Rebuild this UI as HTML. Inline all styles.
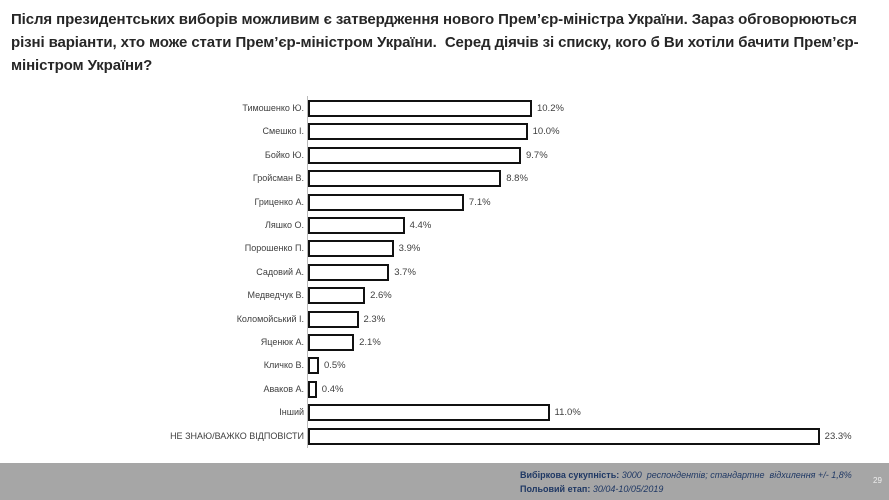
<!DOCTYPE html>
<html><head><meta charset="utf-8"><style>
body{margin:0;width:889px;height:500px;background:#fff;position:relative;overflow:hidden;font-family:"Liberation Sans","DejaVu Sans",sans-serif}
.t{position:absolute;left:11px;top:8px;width:880px;font-size:15px;font-weight:bold;color:#262626;line-height:23px;white-space:nowrap;letter-spacing:-0.1px}
.lab{position:absolute;right:585px;font-size:9px;color:#404040;white-space:nowrap}
.bar{position:absolute;left:308px;height:13px;border:2px solid #111;background:#fff}
.v{position:absolute;font-size:9.5px;color:#404040}
.foot{position:absolute;left:0;top:463px;width:889px;height:37px;background:#a6a6a6}
.ft{position:absolute;left:520px;font-size:9px;color:#1f3864}
</style></head><body>
<div class="t">Після президентських виборів можливим є затвердження нового Прем’єр-міністра України. Зараз обговорюються<br>різні варіанти, хто може стати Прем’єр-міністром України.&nbsp; Серед діячів зі списку, кого б Ви хотіли бачити Прем’єр-<br>міністром України?</div>
<div style="position:absolute;left:307px;top:96px;width:1px;height:352px;background:#bbb"></div>
<div id="c"></div>
<div class="foot"></div>
<div class="ft" style="top:470px"><b>Вибіркова сукупність:</b> <i>3000&nbsp; респондентів; стандартне&nbsp; відхилення +/- 1,8%</i></div>
<div class="ft" style="top:484px"><b>Польовий етап:</b> <i>30/04-10/05/2019</i></div>
<div style="position:absolute;left:873px;top:476px;font-size:8px;color:#eee">29</div>
<script>
var d=[["Тимошенко Ю.",10.2],["Смешко І.",10.0],["Бойко Ю.",9.7],["Гройсман В.",8.8],["Гриценко А.",7.1],["Ляшко О.",4.4],["Порошенко П.",3.9],["Садовий А.",3.7],["Медведчук В.",2.6],["Коломойський І.",2.3],["Яценюк А.",2.1],["Кличко В.",0.5],["Аваков А.",0.4],["Інший",11.0],["НЕ ЗНАЮ/ВАЖКО ВІДПОВІСТИ",23.3]];
var h="";d.forEach(function(r,i){var y=100+i*23.4,w=r[1]*21.96;
h+='<div class="lab" style="top:'+(y+3)+'px">'+r[0]+'</div><div class="bar" style="top:'+y+'px;width:'+(w-4)+'px"></div><div class="v" style="top:'+(y+3)+'px;left:'+(308+w+5)+'px">'+r[1].toFixed(1)+'%</div>';});
document.getElementById("c").innerHTML=h;
</script>
</body></html>
